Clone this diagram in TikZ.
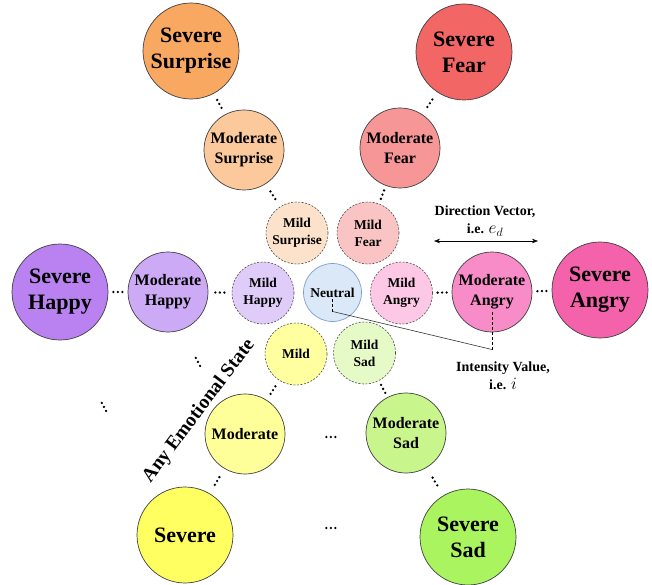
\documentclass[tikz,border=0pt]{standalone}
\usepackage{fontspec}
\setmainfont{Liberation Serif}
\usetikzlibrary{calc,arrows.meta}
\definecolor{sevsur}{HTML}{F9A862}
\definecolor{modsur}{HTML}{FBC99C}
\definecolor{milsur}{HTML}{FDE2CB}
\definecolor{sevfear}{HTML}{F26666}
\definecolor{modfear}{HTML}{F79696}
\definecolor{milfear}{HTML}{FBC4C4}
\definecolor{sevhap}{HTML}{B982F0}
\definecolor{modhap}{HTML}{CDAAF5}
\definecolor{milhap}{HTML}{E0CCF8}
\definecolor{neufill}{HTML}{DAE8F8}
\definecolor{neudraw}{HTML}{7EA0D0}
\definecolor{milang}{HTML}{FCC8E6}
\definecolor{modang}{HTML}{F88CC8}
\definecolor{sevang}{HTML}{F462AC}
\definecolor{milyel}{HTML}{FFFFA0}
\definecolor{modyel}{HTML}{FFFF99}
\definecolor{sevyel}{HTML}{FFFF62}
\definecolor{milsad}{HTML}{E6FAC8}
\definecolor{modsad}{HTML}{C8F58C}
\definecolor{sevsad}{HTML}{AAF55F}
\newcommand\gapdots[2]{%
  \path (#1) -- (#2) coordinate[midway] (gd);
  \draw[dotsty] ($(gd)!4.6pt!(#1)$) -- ($(gd)!4.6pt!(#2)$);}
\tikzset{
  emo/.style={circle, draw=black!75, line width=0.7pt, inner sep=0pt, align=center},
  sev/.style={emo, minimum size=96pt, font=\bfseries\fontsize{22}{26}\selectfont},
  mod/.style={emo, minimum size=80pt, font=\bfseries\fontsize{16}{20}\selectfont},
  mild/.style={emo, minimum size=62pt, draw=black!70, line width=0.6pt, dash pattern=on 2pt off 1.5pt, font=\bfseries\fontsize{13.5}{17}\selectfont},
  neutral/.style={emo, minimum size=58pt, draw=neudraw, fill=neufill, font=\bfseries\fontsize{13.5}{17}\selectfont},
  ann/.style={align=center, font=\bfseries\fontsize{14}{18}\selectfont},
  dotsty/.style={line width=2.6pt, line cap=round, dash pattern=on 0pt off 4.5pt},
  vdash/.style={line width=1pt, dash pattern=on 3pt off 2pt},
  dirarrow/.style={{Stealth[length=6pt,width=4.5pt]}-{Stealth[length=6pt,width=4.5pt]}, line width=0.6pt}
}
\begin{document}
\begin{tikzpicture}[x=1pt,y=-1pt]
\useasboundingbox (0,0) rectangle (652,585);
\fill[white] (0,0) rectangle (652,585);
% circles
\node[sev, fill=sevsur] (ssur) at (191,51) {Severe\\Surprise};
\node[sev, fill=sevfear] (sfear) at (464,52) {Severe\\Fear};
\node[mod, fill=modsur] (msur) at (244,150) {Moderate\\Surprise};
\node[mod, fill=modfear] (mfear) at (400,148) {Moderate\\Fear};
\node[mild, fill=milsur] (lsur) at (297,233) {Mild\\Surprise};
\node[mild, fill=milfear] (lfear) at (368,233) {Mild\\Fear};
\node[sev, fill=sevhap] (shap) at (60,292) {Severe\\Happy};
\node[mod, fill=modhap] (mhap) at (168,292) {Moderate\\Happy};
\node[mild, fill=milhap] (lhap) at (263,293) {Mild\\Happy};
\node[neutral] (neu) at (332.5,292.5) {Neutral};
\node[mild, fill=milang] (lang) at (401.5,293) {Mild\\Angry};
\node[mod, fill=modang] (mang) at (492,292) {Moderate\\Angry};
\node[sev, fill=sevang] (sang) at (600,290) {Severe\\Angry};
\node[mild, fill=milyel] (lyel) at (296,354) {Mild};
\node[mild, fill=milsad] (lsad) at (364.5,353) {Mild\\Sad};
\node[mod, fill=modyel] (myel) at (245,434) {Moderate};
\node[mod, fill=modsad] (msad) at (406,433) {Moderate\\Sad};
\node[sev, fill=sevyel] (syel) at (185,535) {Severe};
\node[sev, fill=sevsad] (ssad) at (468,537) {Severe\\Sad};
% dots between circles
\gapdots{ssur}{msur}
\gapdots{msur}{lsur}
\gapdots{sfear}{mfear}
\gapdots{mfear}{lfear}
\gapdots{shap}{mhap}
\gapdots{mhap}{lhap}
\gapdots{lang}{mang}
\gapdots{mang}{sang}
\gapdots{lyel}{myel}
\gapdots{myel}{syel}
\gapdots{lsad}{msad}
\gapdots{msad}{ssad}
% free dots
\coordinate (d1) at (331,437);
\coordinate (d2) at (331,528);
\coordinate (d3) at (198,362);
\coordinate (d4) at (104,407);
\draw[dotsty] ($(d1)+(-4.6pt,0pt)$) -- ($(d1)+(4.6pt,0pt)$);
\draw[dotsty] ($(d2)+(-4.6pt,0pt)$) -- ($(d2)+(4.6pt,0pt)$);
\draw[dotsty] ($(d3)+(118:4.6pt)$) -- ($(d3)+(-62:4.6pt)$);
\draw[dotsty] ($(d4)+(118:4.6pt)$) -- ($(d4)+(-62:4.6pt)$);
% any emotional state
\node[rotate=53, font=\bfseries\fontsize{19.5}{22}\selectfont] (aes) at (199,411) {Any Emotional State};
% direction vector
\node[ann] (dv) at (485,221) {Direction Vector,\\i.e. {\fontsize{17}{18}\selectfont$e_d$}};
\coordinate (al) at (434,241);
\coordinate (ar) at (538,241);
\draw[dirarrow] (al) -- (ar);
% intensity value
\node[ann] (iv) at (503,376) {Intensity Value,\\i.e. {\fontsize{17}{18}\selectfont$i$}};
\coordinate (n1) at (332.7,299);
\coordinate (n2) at (332.7,311.5);
\coordinate (m1) at (492,311.5);
\coordinate (m2) at (492,349.5);
\draw[vdash] (n1) -- (n2);
\draw[line width=0.6pt, black!80] (n2) -- (m2);
\draw[vdash] (m2) -- (m1);
\end{tikzpicture}
\end{document}
